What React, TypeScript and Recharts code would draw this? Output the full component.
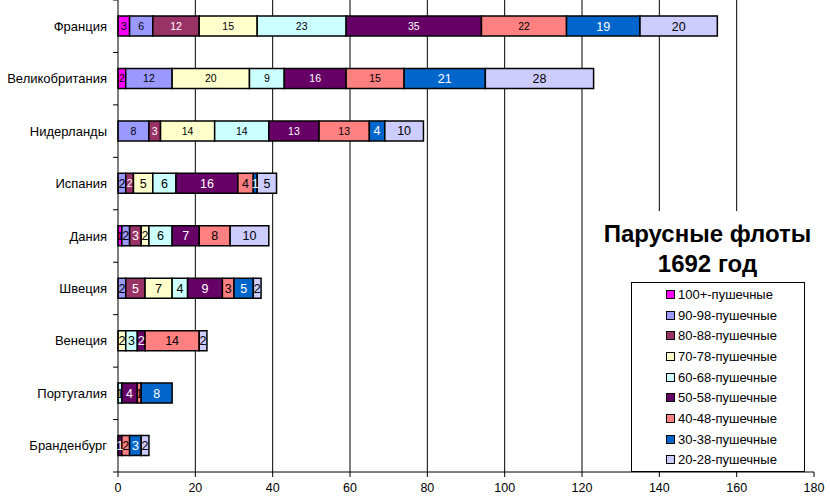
import React from 'react';
import { BarChart, Bar, XAxis, YAxis, CartesianGrid, LabelList } from 'recharts';

const countries = ['Франция', 'Великобритания', 'Нидерланды', 'Испания', 'Дания', 'Швеция', 'Венеция', 'Португалия', 'Бранденбург'];

const seriesNames = ['100+-пушечные', '90-98-пушечные', '80-88-пушечные', '70-78-пушечные', '60-68-пушечные', '50-58-пушечные', '40-48-пушечные', '30-38-пушечные', '20-28-пушечные'];

const guns100 = [3, 2, 0, 0, 1, 0, 0, 0, 0];
const guns90 = [6, 12, 8, 2, 2, 2, 0, 0, 0];
const guns80 = [12, 0, 3, 2, 3, 5, 0, 0, 0];
const guns70 = [15, 20, 14, 5, 2, 7, 2, 0, 0];
const guns60 = [23, 9, 14, 6, 6, 4, 3, 1, 0];
const guns50 = [35, 16, 13, 16, 7, 9, 2, 4, 1];
const guns40 = [22, 15, 13, 4, 8, 3, 14, 1, 2];
const guns30 = [19, 21, 4, 1, 0, 5, 0, 8, 3];
const guns20 = [20, 28, 10, 5, 10, 2, 2, 0, 2];

const xTicks = [0, 20, 40, 60, 80, 100, 120, 140, 160, 180];

const seriesValues = [guns100, guns90, guns80, guns70, guns60, guns50, guns40, guns30, guns20];
const colors = ['#FF00FF', '#9999FF', '#993366', '#FFFFCC', '#CCFFFF', '#660066', '#FF8080', '#0066CC', '#CCCCFF'];
const whiteText = [false, false, true, false, false, true, false, true, false];

const data = countries.map((name, i) => {
  const row: Record<string, string | number> = { name };
  seriesValues.forEach((vals, s) => { row['s' + s] = vals[i]; });
  return row;
});

const FONT = '"Liberation Sans", Arial, sans-serif';
const W = 830;
const H = 504;
const Y_W = 118;
const X_H = 32;
const PLOT_H = H - X_H;
const BAND = PLOT_H / countries.length;

const CategoryTick = (props: any) => {
  const { x, y, index, payload } = props;
  const top = y - BAND / 2;
  return (
    <g>
      <text x={x} y={y} dy="0.35em" textAnchor="end" fontSize={13} fontFamily={FONT} fill="#000">{payload.value}</text>
      <line x1={x + 6} x2={x + 11} y1={top} y2={top} stroke="#000" />
      {index === countries.length - 1 && <line x1={x + 6} x2={x + 11} y1={y + BAND / 2} y2={y + BAND / 2} stroke="#000" />}
    </g>
  );
};

const makeLabel = (s: number) => (props: any) => {
  const { x, y, width, height, value, index } = props;
  if (!value) return null;
  const small = index < 3 && s < 7;
  return (
    <text x={x + width / 2} y={y + height / 2} dy="0.36em" textAnchor="middle" fontSize={small ? 10.5 : 12.5} fontFamily={FONT} fill={whiteText[s] ? '#fff' : '#000'}>
      {value}
    </text>
  );
};

export default function App() {
  return (
    <div style={{ position: 'absolute', left: 0, top: 0, width: W, height: H, background: '#fff' }}>
      <BarChart width={W} height={H} data={data} layout="vertical" margin={{ top: 0, right: 16, bottom: 0, left: 0 }} barSize={20}>
        <CartesianGrid horizontal={false} vertical={true} stroke="#000" verticalValues={[20, 40, 60, 80, 100, 120, 140, 160]} />
        <XAxis type="number" domain={[0, 180]} ticks={xTicks} height={X_H} tickSize={5} tickMargin={6} axisLine={{ stroke: '#000' }} tickLine={{ stroke: '#000' }} tick={{ fill: '#000', fontSize: 12.5, fontFamily: FONT }} interval={0} />
        <YAxis type="category" dataKey="name" width={Y_W} tickSize={0} tickMargin={11} axisLine={{ stroke: '#000' }} tickLine={false} tick={<CategoryTick />} interval={0} />
        {seriesNames.map((n, s) => (
          <Bar key={n} name={n} dataKey={'s' + s} stackId="a" fill={colors[s]} stroke="#000" strokeWidth={1.5} isAnimationActive={false}>
            <LabelList dataKey={'s' + s} content={makeLabel(s)} />
          </Bar>
        ))}
      </BarChart>
      <div style={{ position: 'absolute', left: 595, top: 211, width: 225, height: 71, background: '#fff', boxSizing: 'border-box', paddingTop: 8, textAlign: 'center', fontFamily: FONT, fontWeight: 'bold', fontSize: 24, lineHeight: '30px', color: '#000' }}>
        Парусные флоты<br />1692 год
      </div>
      <div style={{ position: 'absolute', left: 631, top: 282, width: 174, height: 190, background: '#fff', border: '1px solid #000', boxSizing: 'border-box', paddingTop: 1, fontFamily: FONT, fontSize: 13, color: '#000' }}>
        {seriesNames.map((n, s) => (
          <div key={n} style={{ height: 20.7, display: 'flex', alignItems: 'center', paddingLeft: 34 }}>
            <span style={{ display: 'inline-block', width: 7, height: 7, background: colors[s], border: '1px solid #000', marginRight: 3 }} />
            <span>{n}</span>
          </div>
        ))}
      </div>
    </div>
  );
}
